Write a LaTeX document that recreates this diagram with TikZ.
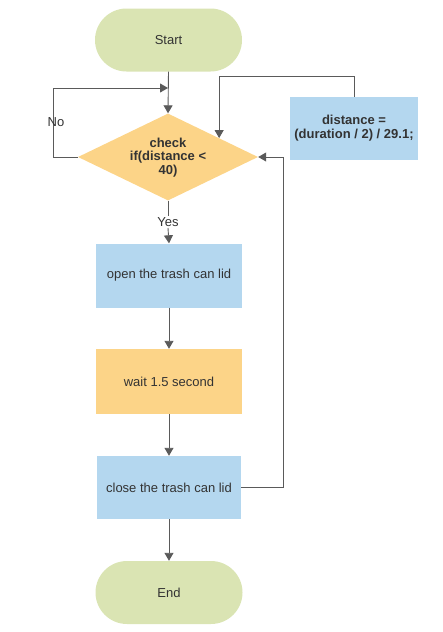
\documentclass[tikz,border=0pt]{standalone}
\usepackage{fontspec}
\setmainfont{Liberation Sans}
\usetikzlibrary{shapes.geometric,arrows.meta,calc}
\definecolor{cgreen}{HTML}{DAE4B3}
\definecolor{cblue}{HTML}{B4D7EF}
\definecolor{corange}{HTML}{FCD488}
\definecolor{cline}{HTML}{5A5A5A}
\definecolor{ctext}{HTML}{333333}
\begin{document}
\begin{tikzpicture}[x=1pt,y=-1pt,
  every node/.style={font=\fontsize{13}{14}\selectfont,text=ctext,align=center},
  term/.style={fill=cgreen,rounded corners=31.5pt,minimum width=147pt,minimum height=63pt,inner sep=0pt},
  procbox/.style={fill=cblue,minimum width=146pt,minimum height=64pt,inner sep=0pt},
  waitbox/.style={fill=corange,minimum width=146pt,minimum height=65pt,inner sep=0pt},
  decbox/.style={diamond,fill=corange,minimum width=180pt,minimum height=87pt,inner sep=0pt},
  dectext/.style={font=\bfseries\fontsize{13}{13.5}\selectfont,inner sep=0pt},
  arr/.style={draw=cline,line width=0.9pt,-{Triangle[length=8pt,width=9pt]}},
  ln/.style={draw=cline,line width=0.9pt},
  lbl/.style={fill=white,inner sep=1pt}]
\useasboundingbox (0,0) rectangle (442,632);
\node[term] (start) at (168.5,40) {Start};
\node[decbox] (dec) at (168,157) {};
\node[dectext] (dect) at (168,157.5) {check\\if(distance <\\40)};
\node[procbox,fill=cblue,minimum width=128pt,minimum height=63pt,font=\bfseries\fontsize{13}{14}\selectfont] (dist) at (354,128.5) {distance =\\(duration / 2) / 29.1;};
\node[procbox] (open) at (169,275.5) {open the trash can lid};
\node[waitbox] (wait) at (169,381.5) {wait 1.5 second};
\node[procbox,minimum width=144pt,minimum height=63pt] (close) at (169,487.5) {close the trash can lid};
\node[term] (end) at (169,592.5) {End};
\coordinate (nj) at (168,88);
\coordinate (dj) at ($(dec.north)!0.567!(dec.east)$);
\draw[arr] (start.south) -- (dec.north);
\draw[arr] (dec.west) -- ++(-24,0) |- (nj);
\node[inner sep=0pt] (no) at (56,122) {No};
\draw[ln] (dec.south) -- (168,222) node[lbl] (yes) {Yes};
\draw[arr] (yes.south) -- (open.north);
\draw[arr] (dist.north) -- ++(0,-20) -| (dj);
\draw[arr] (open.south) -- (wait.north);
\draw[arr] (wait.south) -- (close.north);
\draw[arr] (close.south) -- (end.north);
\draw[arr] (close.east) -- ++(42,0) |- (dec.east);
\end{tikzpicture}
\end{document}
